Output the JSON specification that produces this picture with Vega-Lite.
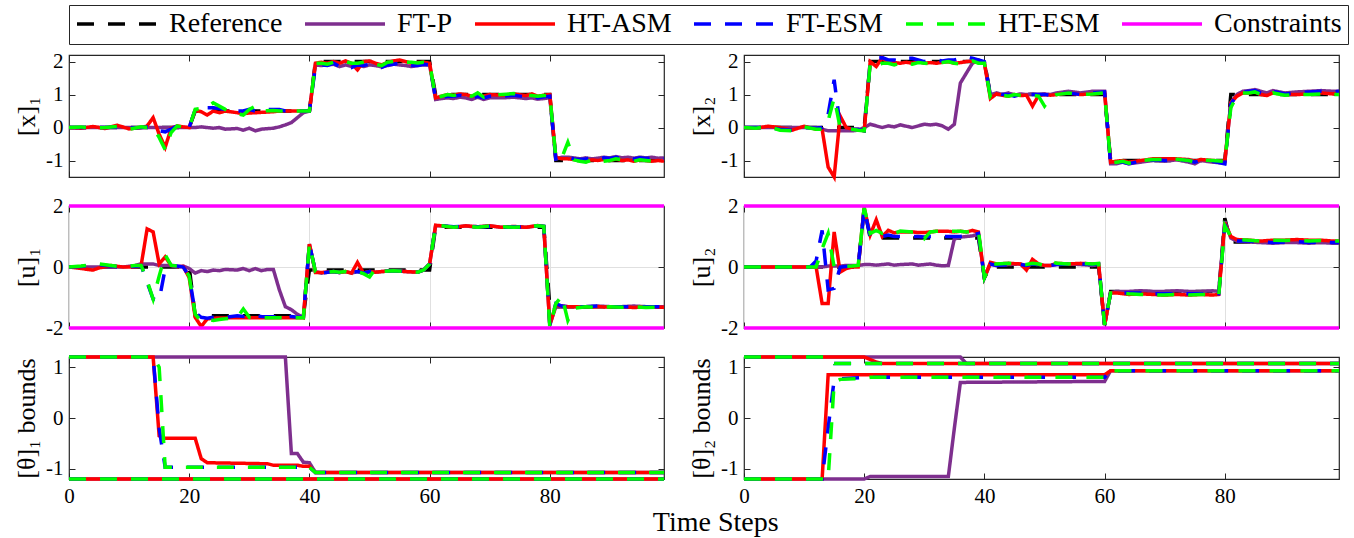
{
"$schema":"https://vega.github.io/schema/vega-lite/v6.json",
"padding":{"left":12,"top":4,"right":5,"bottom":0},
"background":"white",
"bounds":"flush",
"columns":2,
"spacing":{"row":29,"column":80},
"title":{"text":"Time Steps","orient":"bottom","anchor":"middle","font":"Liberation Serif","fontSize":28,"fontWeight":"normal","color":"#000000","offset":2,"dx":35},
"resolve":{"scale":{"color":"shared","strokeDash":"shared"}},
"datasets":{
"x1":[
{"t":0,"a":0,"b":0,"c":0,"d":0,"e":0},
{"t":2,"a":0,"b":0,"c":-0.02,"d":0,"e":0.02},
{"t":4,"a":0,"b":0,"c":0.03,"d":0,"e":-0.02},
{"t":6,"a":0,"b":0,"c":-0.03,"d":0,"e":0},
{"t":8,"a":0,"b":0,"c":0.07,"d":0.02,"e":0.03},
{"t":10,"a":0,"b":0,"c":-0.04,"d":-0.02,"e":-0.05},
{"t":12,"a":0,"b":0,"c":0,"d":0,"e":0.02},
{"t":13,"a":0,"b":0,"c":0.05,"d":0.02,"e":0},
{"t":14,"a":0,"b":0,"c":0.3,"d":0.02,"e":0},
{"t":15,"a":0,"b":0,"c":-0.2,"d":-0.1,"e":-0.3},
{"t":16,"a":0,"b":0,"c":-0.6,"d":-0.13,"e":-0.67},
{"t":17,"a":0,"b":0,"c":-0.02,"d":-0.05,"e":-0.15},
{"t":18,"a":0,"b":0,"c":0.05,"d":0.05,"e":0.05},
{"t":19,"a":0,"b":0,"c":0.02,"d":0,"e":0},
{"t":20,"a":0,"b":0,"c":0,"d":0,"e":0},
{"t":21,"a":0.5,"b":0,"c":0.52,"d":0.55,"e":0.55},
{"t":22,"a":0.5,"b":0.02,"c":0.48,"d":0.6,"e":0.58},
{"t":23,"a":0.5,"b":0,"c":0.38,"d":0.6,"e":0.62},
{"t":24,"a":0.5,"b":-0.02,"c":0.5,"d":0.6,"e":0.75},
{"t":25,"a":0.5,"b":0,"c":0.45,"d":0.58,"e":0.65},
{"t":26,"a":0.5,"b":-0.05,"c":0.5,"d":0.55,"e":0.55},
{"t":28,"a":0.5,"b":-0.03,"c":0.45,"d":0.5,"e":0.42},
{"t":29,"a":0.5,"b":-0.08,"c":0.42,"d":0.5,"e":0.38},
{"t":30,"a":0.5,"b":-0.02,"c":0.44,"d":0.55,"e":0.55},
{"t":31,"a":0.5,"b":-0.1,"c":0.45,"d":0.5,"e":0.65},
{"t":32,"a":0.5,"b":-0.05,"c":0.46,"d":0.55,"e":0.5},
{"t":34,"a":0.5,"b":-0.02,"c":0.48,"d":0.55,"e":0.52},
{"t":35,"a":0.5,"b":0.02,"c":0.5,"d":0.55,"e":0.5},
{"t":36,"a":0.5,"b":0.08,"c":0.5,"d":0.5,"e":0.5},
{"t":37,"a":0.5,"b":0.15,"c":0.5,"d":0.5,"e":0.5},
{"t":38,"a":0.5,"b":0.3,"c":0.5,"d":0.5,"e":0.5},
{"t":39,"a":0.5,"b":0.45,"c":0.5,"d":0.5,"e":0.5},
{"t":40,"a":0.5,"b":0.5,"c":0.5,"d":0.5,"e":0.5},
{"t":41,"a":2,"b":1.9,"c":1.95,"d":1.85,"e":1.95},
{"t":42,"a":2,"b":1.88,"c":1.98,"d":1.9,"e":1.95},
{"t":43,"a":2,"b":1.9,"c":1.95,"d":1.88,"e":1.92},
{"t":44,"a":2,"b":1.92,"c":2,"d":1.95,"e":1.98},
{"t":45,"a":2,"b":1.85,"c":1.95,"d":1.85,"e":2},
{"t":46,"a":2,"b":1.9,"c":2.02,"d":1.9,"e":2},
{"t":47,"a":2,"b":1.85,"c":1.95,"d":1.82,"e":1.95},
{"t":48,"a":2,"b":1.9,"c":1.75,"d":1.9,"e":1.95},
{"t":49,"a":2,"b":1.85,"c":2,"d":1.88,"e":1.98},
{"t":50,"a":2,"b":1.9,"c":2.02,"d":1.92,"e":2},
{"t":51,"a":2,"b":1.88,"c":1.95,"d":1.85,"e":1.92},
{"t":52,"a":2,"b":1.84,"c":1.9,"d":1.82,"e":1.88},
{"t":53,"a":2,"b":1.88,"c":1.97,"d":1.9,"e":1.98},
{"t":54,"a":2,"b":1.92,"c":2.02,"d":1.92,"e":2},
{"t":55,"a":2,"b":1.9,"c":2.05,"d":1.95,"e":2.02},
{"t":56,"a":2,"b":1.88,"c":2,"d":1.9,"e":1.98},
{"t":57,"a":2,"b":1.85,"c":1.95,"d":1.88,"e":1.98},
{"t":58,"a":2,"b":1.88,"c":1.97,"d":1.88,"e":1.96},
{"t":59,"a":2,"b":1.9,"c":1.98,"d":1.92,"e":1.98},
{"t":60,"a":2,"b":1.9,"c":1.95,"d":1.9,"e":1.95},
{"t":61,"a":1,"b":0.85,"c":0.9,"d":0.88,"e":0.9},
{"t":62,"a":1,"b":0.88,"c":0.95,"d":0.92,"e":0.95},
{"t":63,"a":1,"b":0.9,"c":1,"d":0.95,"e":1},
{"t":64,"a":1,"b":0.88,"c":0.98,"d":0.95,"e":0.97},
{"t":65,"a":1,"b":0.92,"c":1.02,"d":0.98,"e":1.02},
{"t":66,"a":1,"b":0.9,"c":1,"d":0.95,"e":0.98},
{"t":67,"a":1,"b":0.85,"c":0.95,"d":0.88,"e":0.95},
{"t":68,"a":1,"b":0.92,"c":1,"d":0.95,"e":1.05},
{"t":69,"a":1,"b":0.85,"c":0.95,"d":0.9,"e":0.92},
{"t":70,"a":1,"b":0.9,"c":1,"d":0.95,"e":0.97},
{"t":72,"a":1,"b":0.9,"c":0.98,"d":0.95,"e":1},
{"t":74,"a":1,"b":0.92,"c":1.02,"d":0.98,"e":1.03},
{"t":76,"a":1,"b":0.88,"c":0.97,"d":0.93,"e":0.98},
{"t":77,"a":1,"b":0.9,"c":1.02,"d":0.95,"e":0.97},
{"t":78,"a":1,"b":0.86,"c":0.95,"d":0.9,"e":0.95},
{"t":79,"a":1,"b":0.88,"c":0.98,"d":0.93,"e":0.97},
{"t":80,"a":1,"b":0.9,"c":1,"d":0.95,"e":0.98},
{"t":81,"a":-1,"b":-0.95,"c":-0.9,"d":-0.95,"e":-0.9},
{"t":82,"a":-1,"b":-0.9,"c":-0.95,"d":-0.92,"e":-0.92},
{"t":83,"a":-1,"b":-0.9,"c":-0.95,"d":-0.9,"e":-0.45},
{"t":84,"a":-1,"b":-0.92,"c":-0.97,"d":-0.95,"e":-0.98},
{"t":85,"a":-1,"b":-0.95,"c":-1,"d":-0.97,"e":-1.02},
{"t":86,"a":-1,"b":-0.92,"c":-1.02,"d":-0.95,"e":-1.05},
{"t":87,"a":-1,"b":-0.95,"c":-0.98,"d":-0.93,"e":-0.98},
{"t":88,"a":-1,"b":-0.93,"c":-1,"d":-0.95,"e":-1.05},
{"t":89,"a":-1,"b":-0.9,"c":-0.97,"d":-0.92,"e":-1.02},
{"t":90,"a":-1,"b":-0.92,"c":-1,"d":-0.94,"e":-1},
{"t":91,"a":-1,"b":-0.88,"c":-0.95,"d":-0.9,"e":-0.95},
{"t":92,"a":-1,"b":-0.92,"c":-1,"d":-0.93,"e":-0.98},
{"t":93,"a":-1,"b":-0.9,"c":-0.98,"d":-0.92,"e":-1},
{"t":94,"a":-1,"b":-0.93,"c":-1.02,"d":-0.95,"e":-1.02},
{"t":95,"a":-1,"b":-0.9,"c":-0.98,"d":-0.92,"e":-0.98},
{"t":96,"a":-1,"b":-0.92,"c":-1,"d":-0.94,"e":-1},
{"t":97,"a":-1,"b":-0.9,"c":-1.02,"d":-0.92,"e":-1.02},
{"t":98,"a":-1,"b":-0.93,"c":-1,"d":-0.95,"e":-1},
{"t":99,"a":-1,"b":-0.92,"c":-1.02,"d":-0.94,"e":-1}
],
"x2":[
{"t":0,"a":0,"b":0,"c":0,"d":0,"e":0},
{"t":2,"a":0,"b":0,"c":-0.02,"d":0,"e":-0.02},
{"t":4,"a":0,"b":0,"c":0.04,"d":0,"e":0.03},
{"t":6,"a":0,"b":0,"c":0,"d":-0.05,"e":-0.08},
{"t":8,"a":0,"b":0,"c":-0.08,"d":-0.08,"e":-0.1},
{"t":10,"a":0,"b":0,"c":0.04,"d":0,"e":0.02},
{"t":12,"a":0,"b":0,"c":-0.05,"d":-0.02,"e":-0.05},
{"t":13,"a":0,"b":-0.05,"c":-0.05,"d":0,"e":-0.05},
{"t":14,"a":0,"b":-0.1,"c":-1.2,"d":0.4,"e":0.2},
{"t":15,"a":0,"b":-0.1,"c":-1.5,"d":1.45,"e":0.9},
{"t":16,"a":0,"b":-0.1,"c":0.35,"d":0.05,"e":0},
{"t":17,"a":0,"b":-0.1,"c":0,"d":-0.02,"e":-0.02},
{"t":18,"a":0,"b":-0.1,"c":-0.05,"d":-0.05,"e":-0.05},
{"t":19,"a":0,"b":-0.08,"c":-0.05,"d":-0.05,"e":-0.08},
{"t":20,"a":0,"b":0,"c":-0.1,"d":-0.1,"e":-0.1},
{"t":21,"a":2,"b":0.1,"c":2,"d":2,"e":1.95},
{"t":22,"a":2,"b":0.05,"c":1.85,"d":2.1,"e":1.85},
{"t":23,"a":2,"b":0,"c":2.12,"d":2.12,"e":1.95},
{"t":24,"a":2,"b":0.05,"c":1.95,"d":2.05,"e":1.95},
{"t":25,"a":2,"b":0.02,"c":1.97,"d":2.05,"e":1.9},
{"t":26,"a":2,"b":0.08,"c":1.95,"d":2.02,"e":1.95},
{"t":27,"a":2,"b":0.04,"c":1.98,"d":2.1,"e":1.95},
{"t":28,"a":2,"b":0,"c":1.95,"d":2.1,"e":1.92},
{"t":29,"a":2,"b":0.05,"c":2,"d":2.05,"e":1.97},
{"t":30,"a":2,"b":0.1,"c":1.95,"d":2,"e":1.95},
{"t":31,"a":2,"b":0.08,"c":1.97,"d":2.05,"e":1.93},
{"t":32,"a":2,"b":0.1,"c":1.95,"d":2.05,"e":1.95},
{"t":33,"a":2,"b":0.05,"c":1.98,"d":2.02,"e":1.97},
{"t":34,"a":2,"b":-0.05,"c":2,"d":2.05,"e":2},
{"t":35,"a":2,"b":0.1,"c":1.95,"d":2.05,"e":1.95},
{"t":36,"a":2,"b":1.35,"c":1.97,"d":2.1,"e":1.92},
{"t":37,"a":2,"b":1.65,"c":2,"d":2.15,"e":1.97},
{"t":38,"a":2,"b":1.95,"c":2.02,"d":2.1,"e":2.02},
{"t":39,"a":2,"b":2.05,"c":1.97,"d":2.05,"e":1.95},
{"t":40,"a":2,"b":1.95,"c":1.95,"d":2,"e":1.95},
{"t":41,"a":1,"b":1,"c":0.88,"d":0.95,"e":0.92},
{"t":42,"a":1,"b":1.05,"c":1.02,"d":1.05,"e":1},
{"t":43,"a":1,"b":1,"c":0.98,"d":1,"e":0.98},
{"t":44,"a":1,"b":1.05,"c":0.95,"d":1,"e":0.95},
{"t":45,"a":1,"b":0.98,"c":1,"d":0.95,"e":1},
{"t":46,"a":1,"b":1.02,"c":0.97,"d":1,"e":0.98},
{"t":47,"a":1,"b":1,"c":0.98,"d":0.98,"e":0.97},
{"t":48,"a":1,"b":1.02,"c":0.65,"d":1,"e":0.98},
{"t":49,"a":1,"b":1,"c":0.97,"d":1,"e":0.95},
{"t":50,"a":1,"b":1.02,"c":1,"d":1,"e":0.65},
{"t":51,"a":1,"b":1,"c":0.98,"d":0.98,"e":0.9},
{"t":52,"a":1,"b":1.05,"c":1,"d":1.02,"e":1},
{"t":54,"a":1,"b":1.1,"c":1.05,"d":1.05,"e":1.05},
{"t":56,"a":1,"b":1.05,"c":1,"d":1,"e":1},
{"t":58,"a":1,"b":1.1,"c":1.02,"d":1.05,"e":1.02},
{"t":60,"a":1,"b":1.1,"c":1.05,"d":1.08,"e":1.05},
{"t":61,"a":-1,"b":-1.1,"c":-1.05,"d":-1.1,"e":-1.08},
{"t":62,"a":-1,"b":-1.1,"c":-1.02,"d":-1.05,"e":-1.05},
{"t":63,"a":-1,"b":-1.05,"c":-1,"d":-1.05,"e":-1.02},
{"t":64,"a":-1,"b":-1.1,"c":-1.05,"d":-1.1,"e":-1.08},
{"t":66,"a":-1,"b":-1.05,"c":-1,"d":-1.02,"e":-1},
{"t":68,"a":-1,"b":-1,"c":-0.95,"d":-0.98,"e":-0.97},
{"t":70,"a":-1,"b":-1.02,"c":-0.95,"d":-1,"e":-0.97},
{"t":72,"a":-1,"b":-0.98,"c":-0.95,"d":-0.98,"e":-0.96},
{"t":74,"a":-1,"b":-1.05,"c":-0.97,"d":-1,"e":-1},
{"t":75,"a":-1,"b":-1.1,"c":-1.02,"d":-1.05,"e":-1.05},
{"t":76,"a":-1,"b":-1,"c":-0.97,"d":-1,"e":-0.98},
{"t":78,"a":-1,"b":-1.05,"c":-1,"d":-1.02,"e":-1},
{"t":80,"a":-1,"b":-1.08,"c":-1.02,"d":-1.1,"e":-1.03},
{"t":81,"a":1,"b":0.75,"c":0.75,"d":0.7,"e":0.6},
{"t":82,"a":1,"b":1,"c":0.95,"d":1,"e":0.95},
{"t":83,"a":1,"b":1.1,"c":1.05,"d":1.08,"e":1.05},
{"t":84,"a":1,"b":1.12,"c":1.05,"d":1.1,"e":1.05},
{"t":85,"a":1,"b":1.15,"c":1.08,"d":1.12,"e":1.08},
{"t":86,"a":1,"b":1.1,"c":1,"d":1.05,"e":1},
{"t":87,"a":1,"b":1.05,"c":0.97,"d":1,"e":0.97},
{"t":88,"a":1,"b":1.12,"c":1.05,"d":1.1,"e":1.05},
{"t":90,"a":1,"b":1.05,"c":1,"d":1.02,"e":0.98},
{"t":92,"a":1,"b":1.08,"c":1,"d":1.05,"e":1},
{"t":94,"a":1,"b":1.1,"c":1.02,"d":1.08,"e":1},
{"t":96,"a":1,"b":1.12,"c":1.05,"d":1.1,"e":1.02},
{"t":98,"a":1,"b":1.1,"c":1.02,"d":1.08,"e":1},
{"t":99,"a":1,"b":1.1,"c":1.05,"d":1.1,"e":1}
],
"u1":[
{"t":0,"a":0,"b":0,"c":0,"d":0,"e":0},
{"t":2,"a":0,"b":0,"c":-0.05,"d":0.02,"e":0.03},
{"t":4,"a":0,"b":0,"c":-0.1,"d":0.05,"e":0.08},
{"t":5,"a":0,"b":0,"c":-0.03,"d":0.08,"e":0.1},
{"t":7,"a":0,"b":0,"c":0.05,"d":0.03,"e":0.05},
{"t":9,"a":0,"b":0,"c":0,"d":0,"e":0},
{"t":11,"a":0,"b":0.05,"c":0,"d":0.02,"e":0.05},
{"t":12,"a":0,"b":0.1,"c":0.05,"d":0.05,"e":0.05},
{"t":13,"a":0,"b":0.1,"c":1.25,"d":-0.5,"e":-0.45},
{"t":14,"a":0,"b":0.1,"c":1.15,"d":-1.05,"e":-1.05},
{"t":15,"a":0,"b":0.05,"c":0.1,"d":-1.1,"e":-0.3},
{"t":16,"a":0,"b":0.05,"c":0.33,"d":-0.05,"e":0.4},
{"t":17,"a":0,"b":0.05,"c":0.05,"d":0.05,"e":0.05},
{"t":18,"a":0,"b":0,"c":0.02,"d":0.03,"e":0.03},
{"t":19,"a":0,"b":0.03,"c":0.02,"d":0,"e":0.02},
{"t":20,"a":0,"b":-0.05,"c":-0.35,"d":-0.3,"e":-0.3},
{"t":21,"a":-1.6,"b":-0.2,"c":-1.65,"d":-1.5,"e":-1.55},
{"t":22,"a":-1.6,"b":-0.12,"c":-1.95,"d":-1.65,"e":-1.78},
{"t":23,"a":-1.6,"b":-0.15,"c":-1.7,"d":-1.68,"e":-1.72},
{"t":24,"a":-1.6,"b":-0.1,"c":-1.68,"d":-1.65,"e":-1.75},
{"t":25,"a":-1.6,"b":-0.12,"c":-1.67,"d":-1.63,"e":-1.72},
{"t":26,"a":-1.6,"b":-0.08,"c":-1.67,"d":-1.65,"e":-1.7},
{"t":28,"a":-1.6,"b":-0.1,"c":-1.66,"d":-1.6,"e":-1.65},
{"t":29,"a":-1.6,"b":-0.05,"c":-1.66,"d":-1.62,"e":-1.38},
{"t":30,"a":-1.6,"b":-0.12,"c":-1.66,"d":-1.62,"e":-1.65},
{"t":31,"a":-1.6,"b":-0.05,"c":-1.66,"d":-1.6,"e":-1.66},
{"t":32,"a":-1.6,"b":-0.12,"c":-1.66,"d":-1.62,"e":-1.66},
{"t":33,"a":-1.6,"b":-0.08,"c":-1.66,"d":-1.63,"e":-1.66},
{"t":34,"a":-1.6,"b":-0.08,"c":-1.66,"d":-1.63,"e":-1.66},
{"t":35,"a":-1.6,"b":-0.75,"c":-1.66,"d":-1.63,"e":-1.66},
{"t":36,"a":-1.6,"b":-1.3,"c":-1.66,"d":-1.63,"e":-1.66},
{"t":37,"a":-1.6,"b":-1.4,"c":-1.66,"d":-1.62,"e":-1.66},
{"t":38,"a":-1.6,"b":-1.55,"c":-1.66,"d":-1.65,"e":-1.66},
{"t":39,"a":-1.6,"b":-1.65,"c":-1.66,"d":-1.64,"e":-1.66},
{"t":40,"a":-0.1,"b":0.75,"c":0.75,"d":0.75,"e":0.75},
{"t":41,"a":-0.1,"b":-0.15,"c":-0.18,"d":-0.15,"e":-0.15},
{"t":42,"a":-0.1,"b":-0.2,"c":-0.18,"d":-0.2,"e":-0.2},
{"t":44,"a":-0.1,"b":-0.15,"c":-0.15,"d":-0.15,"e":-0.15},
{"t":45,"a":-0.1,"b":-0.18,"c":-0.18,"d":-0.18,"e":-0.17},
{"t":46,"a":-0.1,"b":-0.15,"c":-0.15,"d":-0.15,"e":-0.15},
{"t":47,"a":-0.1,"b":-0.2,"c":-0.2,"d":-0.18,"e":-0.2},
{"t":48,"a":-0.1,"b":-0.15,"c":0.15,"d":-0.15,"e":-0.15},
{"t":49,"a":-0.1,"b":-0.2,"c":-0.2,"d":-0.2,"e":-0.22},
{"t":50,"a":-0.1,"b":-0.15,"c":-0.15,"d":-0.15,"e":-0.33},
{"t":51,"a":-0.1,"b":-0.17,"c":-0.17,"d":-0.15,"e":-0.05},
{"t":52,"a":-0.1,"b":-0.15,"c":-0.15,"d":-0.15,"e":-0.15},
{"t":54,"a":-0.1,"b":-0.12,"c":-0.12,"d":-0.12,"e":-0.12},
{"t":56,"a":-0.1,"b":-0.15,"c":-0.15,"d":-0.15,"e":-0.15},
{"t":58,"a":-0.1,"b":-0.17,"c":-0.17,"d":-0.17,"e":-0.17},
{"t":59,"a":-0.1,"b":-0.1,"c":-0.1,"d":-0.1,"e":-0.1},
{"t":60,"a":-0.1,"b":0.1,"c":0.1,"d":0.1,"e":0.1},
{"t":61,"a":1.3,"b":1.35,"c":1.37,"d":1.37,"e":1.37},
{"t":62,"a":1.3,"b":1.35,"c":1.35,"d":1.35,"e":1.35},
{"t":64,"a":1.3,"b":1.3,"c":1.3,"d":1.32,"e":1.3},
{"t":66,"a":1.3,"b":1.35,"c":1.35,"d":1.33,"e":1.35},
{"t":68,"a":1.3,"b":1.3,"c":1.32,"d":1.32,"e":1.3},
{"t":70,"a":1.3,"b":1.35,"c":1.35,"d":1.33,"e":1.35},
{"t":72,"a":1.3,"b":1.3,"c":1.3,"d":1.3,"e":1.32},
{"t":74,"a":1.3,"b":1.32,"c":1.33,"d":1.32,"e":1.3},
{"t":76,"a":1.3,"b":1.3,"c":1.3,"d":1.3,"e":1.32},
{"t":78,"a":1.3,"b":1.35,"c":1.36,"d":1.35,"e":1.35},
{"t":79,"a":1.3,"b":1.33,"c":1.32,"d":1.33,"e":1.33},
{"t":80,"a":-1.3,"b":-1.9,"c":-1.9,"d":-1.9,"e":-1.98},
{"t":81,"a":-1.3,"b":-1.3,"c":-1.25,"d":-1.2,"e":-1.2},
{"t":82,"a":-1.3,"b":-1.3,"c":-1.28,"d":-1.28,"e":-0.95},
{"t":83,"a":-1.3,"b":-1.3,"c":-1.3,"d":-1.3,"e":-1.75},
{"t":84,"a":-1.3,"b":-1.3,"c":-1.3,"d":-1.3,"e":-1.35},
{"t":86,"a":-1.3,"b":-1.3,"c":-1.32,"d":-1.3,"e":-1.3},
{"t":88,"a":-1.3,"b":-1.28,"c":-1.3,"d":-1.28,"e":-1.33},
{"t":90,"a":-1.3,"b":-1.3,"c":-1.32,"d":-1.3,"e":-1.3},
{"t":92,"a":-1.3,"b":-1.3,"c":-1.3,"d":-1.3,"e":-1.32},
{"t":94,"a":-1.3,"b":-1.28,"c":-1.33,"d":-1.3,"e":-1.3},
{"t":96,"a":-1.3,"b":-1.3,"c":-1.3,"d":-1.3,"e":-1.33},
{"t":98,"a":-1.3,"b":-1.3,"c":-1.32,"d":-1.3,"e":-1.32},
{"t":99,"a":-1.3,"b":-1.3,"c":-1.32,"d":-1.3,"e":-1.33}
],
"u2":[
{"t":0,"a":0,"b":0,"c":0,"d":0,"e":0},
{"t":11,"a":0,"b":0,"c":0,"d":0,"e":0},
{"t":12,"a":0,"b":0,"c":0,"d":0.2,"e":0},
{"t":13,"a":0,"b":0,"c":-1.2,"d":1.2,"e":0.6},
{"t":14,"a":0,"b":0.03,"c":-1.2,"d":-0.75,"e":1.1},
{"t":15,"a":0,"b":0.03,"c":1.15,"d":-0.7,"e":0},
{"t":16,"a":0,"b":0.03,"c":-0.17,"d":0,"e":0},
{"t":17,"a":0,"b":0.05,"c":-0.05,"d":0.02,"e":0.02},
{"t":18,"a":0,"b":0.05,"c":0,"d":0.03,"e":0.03},
{"t":19,"a":0,"b":0.05,"c":0,"d":0.05,"e":0.05},
{"t":20,"a":1.95,"b":0.08,"c":1.95,"d":1.9,"e":1.95},
{"t":21,"a":0.95,"b":0.08,"c":1.05,"d":1,"e":1.1},
{"t":22,"a":0.95,"b":0.06,"c":1.55,"d":1,"e":1.2},
{"t":23,"a":0.95,"b":0.08,"c":1,"d":1,"e":1.1},
{"t":24,"a":0.95,"b":0.1,"c":1.2,"d":1.05,"e":1.15},
{"t":25,"a":0.95,"b":0.06,"c":1.12,"d":1,"e":1.1},
{"t":26,"a":0.95,"b":0.08,"c":1.15,"d":1,"e":1.18},
{"t":28,"a":0.95,"b":0.1,"c":1.15,"d":1,"e":1.15},
{"t":29,"a":0.95,"b":0.06,"c":1.13,"d":1,"e":1.15},
{"t":30,"a":0.95,"b":0.08,"c":1.13,"d":0.98,"e":0.93},
{"t":31,"a":0.95,"b":0.1,"c":1.15,"d":1,"e":1.15},
{"t":32,"a":0.95,"b":0.06,"c":1.17,"d":1,"e":1.17},
{"t":33,"a":0.95,"b":0.04,"c":1.17,"d":1,"e":1.17},
{"t":34,"a":0.95,"b":0.05,"c":1.17,"d":1,"e":1.17},
{"t":35,"a":0.95,"b":0.92,"c":1.15,"d":1,"e":1.17},
{"t":36,"a":0.95,"b":0.98,"c":1.17,"d":1,"e":1.17},
{"t":37,"a":0.95,"b":1,"c":1.15,"d":1.02,"e":1.15},
{"t":38,"a":0.95,"b":1.02,"c":1.2,"d":1.05,"e":1.17},
{"t":39,"a":0.95,"b":1.08,"c":1.15,"d":1.1,"e":1.2},
{"t":40,"a":-0.35,"b":-0.35,"c":-0.35,"d":-0.35,"e":-0.35},
{"t":41,"a":0,"b":0.1,"c":0.15,"d":0.1,"e":0.1},
{"t":42,"a":0,"b":0.05,"c":0.1,"d":0.05,"e":0.1},
{"t":44,"a":0,"b":0.08,"c":0.12,"d":0.08,"e":0.12},
{"t":46,"a":0,"b":0.1,"c":0.1,"d":0.08,"e":0.1},
{"t":47,"a":0,"b":0.05,"c":-0.1,"d":0.05,"e":0.08},
{"t":48,"a":0,"b":0.1,"c":0.25,"d":0.1,"e":0.12},
{"t":49,"a":0,"b":0.08,"c":0.1,"d":0.08,"e":0.1},
{"t":50,"a":0,"b":0.05,"c":0.05,"d":0.05,"e":0.05},
{"t":51,"a":0,"b":0.05,"c":0.05,"d":0.05,"e":0.2},
{"t":52,"a":0,"b":0.08,"c":0.12,"d":0.08,"e":0.12},
{"t":54,"a":0,"b":0.1,"c":0.1,"d":0.1,"e":0.1},
{"t":56,"a":0,"b":0.08,"c":0.12,"d":0.1,"e":0.12},
{"t":58,"a":0,"b":0.05,"c":0.1,"d":0.08,"e":0.1},
{"t":59,"a":0,"b":0.08,"c":0.1,"d":0.1,"e":0.12},
{"t":60,"a":-1.9,"b":-1.9,"c":-1.9,"d":-1.9,"e":-1.9},
{"t":61,"a":-0.8,"b":-0.85,"c":-0.85,"d":-0.85,"e":-0.85},
{"t":62,"a":-0.8,"b":-0.8,"c":-0.85,"d":-0.85,"e":-0.85},
{"t":64,"a":-0.8,"b":-0.8,"c":-0.9,"d":-0.85,"e":-0.88},
{"t":66,"a":-0.8,"b":-0.78,"c":-0.88,"d":-0.85,"e":-0.9},
{"t":68,"a":-0.8,"b":-0.8,"c":-0.9,"d":-0.88,"e":-0.92},
{"t":70,"a":-0.8,"b":-0.8,"c":-0.92,"d":-0.88,"e":-0.92},
{"t":72,"a":-0.8,"b":-0.78,"c":-0.9,"d":-0.87,"e":-0.9},
{"t":74,"a":-0.8,"b":-0.8,"c":-0.92,"d":-0.88,"e":-0.92},
{"t":76,"a":-0.8,"b":-0.8,"c":-0.9,"d":-0.88,"e":-0.9},
{"t":78,"a":-0.8,"b":-0.78,"c":-0.92,"d":-0.88,"e":-0.9},
{"t":79,"a":-0.8,"b":-0.8,"c":-0.9,"d":-0.88,"e":-0.9},
{"t":80,"a":1.6,"b":1.5,"c":1.45,"d":1.4,"e":1.35},
{"t":81,"a":0.82,"b":0.95,"c":1,"d":0.95,"e":1},
{"t":82,"a":0.82,"b":0.85,"c":0.9,"d":0.85,"e":0.9},
{"t":84,"a":0.82,"b":0.82,"c":0.88,"d":0.85,"e":0.88},
{"t":86,"a":0.82,"b":0.8,"c":0.85,"d":0.82,"e":0.85},
{"t":88,"a":0.82,"b":0.78,"c":0.88,"d":0.8,"e":0.88},
{"t":90,"a":0.82,"b":0.8,"c":0.88,"d":0.82,"e":0.87},
{"t":92,"a":0.82,"b":0.8,"c":0.9,"d":0.83,"e":0.88},
{"t":94,"a":0.82,"b":0.78,"c":0.88,"d":0.8,"e":0.85},
{"t":96,"a":0.82,"b":0.8,"c":0.88,"d":0.82,"e":0.87},
{"t":98,"a":0.82,"b":0.78,"c":0.85,"d":0.8,"e":0.85},
{"t":99,"a":0.82,"b":0.78,"c":0.85,"d":0.8,"e":0.85}
],
"th1":[
{"k":"u","t":0,"b":1.2,"c":1.2,"d":1.2,"e":1.2},
{"k":"u","t":14,"b":1.2,"c":1.2,"d":1.2,"e":1.2},
{"k":"u","t":15,"b":1.2,"c":-0.35,"d":-0.2,"e":1.0},
{"k":"u","t":16,"b":1.2,"c":-0.4,"d":-0.97,"e":-0.97},
{"k":"u","t":21,"b":1.2,"c":-0.4,"d":-0.97,"e":-0.97},
{"k":"u","t":22,"b":1.2,"c":-0.8,"d":-0.97,"e":-0.97},
{"k":"u","t":23,"b":1.2,"c":-0.88,"d":-0.97,"e":-0.97},
{"k":"u","t":33,"b":1.2,"c":-0.9,"d":-0.97,"e":-0.97},
{"k":"u","t":34,"b":1.2,"c":-0.93,"d":-0.97,"e":-0.97},
{"k":"u","t":36,"b":1.2,"c":-0.93,"d":-0.97,"e":-0.97},
{"k":"u","t":37,"b":-0.7,"c":-0.93,"d":-0.97,"e":-0.97},
{"k":"u","t":38,"b":-0.7,"c":-0.93,"d":-0.97,"e":-0.97},
{"k":"u","t":39,"b":-0.87,"c":-0.95,"d":-0.97,"e":-0.97},
{"k":"u","t":40,"b":-0.88,"c":-0.95,"d":-0.97,"e":-0.97},
{"k":"u","t":41,"b":-1.07,"c":-1.07,"d":-1.07,"e":-1.07},
{"k":"u","t":99,"b":-1.07,"c":-1.07,"d":-1.07,"e":-1.07},
{"k":"l","t":0,"b":-1.2,"c":-1.2,"d":-1.2,"e":-1.2},
{"k":"l","t":99,"b":-1.2,"c":-1.2,"d":-1.2,"e":-1.2}
],
"th2":[
{"k":"u","t":0,"b":1.2,"c":1.2,"d":1.2,"e":1.2},
{"k":"u","t":14,"b":1.2,"c":1.2,"d":1.2,"e":1.2},
{"k":"u","t":15,"b":1.2,"c":1.2,"d":1.07,"e":1.07},
{"k":"u","t":20,"b":1.2,"c":1.2,"d":1.07,"e":1.07},
{"k":"u","t":21,"b":1.2,"c":1.15,"d":1.07,"e":1.07},
{"k":"u","t":22,"b":1.2,"c":1.1,"d":1.07,"e":1.07},
{"k":"u","t":23,"b":1.2,"c":1.07,"d":1.07,"e":1.07},
{"k":"u","t":36,"b":1.2,"c":1.07,"d":1.07,"e":1.07},
{"k":"u","t":37,"b":1.07,"c":1.07,"d":1.07,"e":1.07},
{"k":"u","t":99,"b":1.07,"c":1.07,"d":1.07,"e":1.07},
{"k":"l","t":0,"b":-1.2,"c":-1.2,"d":-1.2,"e":-1.2},
{"k":"l","t":13,"b":-1.2,"c":-1.2,"d":-1.2,"e":-1.2},
{"k":"l","t":14,"b":-1.2,"c":0.85,"d":-0.2,"e":-1.2},
{"k":"l","t":15,"b":-1.2,"c":0.85,"d":0.75,"e":0.7},
{"k":"l","t":16,"b":-1.2,"c":0.85,"d":0.77,"e":0.76},
{"k":"l","t":20,"b":-1.2,"c":0.85,"d":0.8,"e":0.78},
{"k":"l","t":21,"b":-1.15,"c":0.85,"d":0.8,"e":0.8},
{"k":"l","t":34,"b":-1.15,"c":0.85,"d":0.8,"e":0.8},
{"k":"l","t":35,"b":-0.2,"c":0.85,"d":0.8,"e":0.8},
{"k":"l","t":36,"b":0.7,"c":0.85,"d":0.8,"e":0.8},
{"k":"l","t":60,"b":0.72,"c":0.85,"d":0.8,"e":0.8},
{"k":"l","t":61,"b":0.93,"c":0.93,"d":0.93,"e":0.93},
{"k":"l","t":99,"b":0.93,"c":0.93,"d":0.93,"e":0.93}
],
"cons":[
{"s":"f","g":"u","t":0,"v":2},
{"s":"f","g":"u","t":99,"v":2},
{"s":"f","g":"l","t":0,"v":-2},
{"s":"f","g":"l","t":99,"v":-2}
]
},
"concat":[
{"width":595,"height":122,"data":{"name":"x1"},"transform":[{"fold":["a","b","c","d","e"],"as":["s","v"]}],
 "resolve":{"axis":{"x":"independent","y":"independent"}},
 "layer":[
  {"transform":[{"filter":"datum.s == 'a'"}],
   "mark":{"type":"line","strokeWidth":3.5,"clip":false},
   "encoding":{
    "x":{"field":"t","type":"quantitative","axis":{"orient":"top","values":[0,20,40,60,80],"labels":false,"grid":false,"title":null}},
    "y":{"field":"v","type":"quantitative","axis":{"orient":"right","values":[-1,0,1,2],"labels":false,"grid":false,"title":null}},
    "color":{"field":"s","type":"nominal","scale":{"domain":["a","b","c","d","e","f"],"range":["#000000","#7E2F8E","#FF0000","#0000FF","#00FF00","#FF00FF"]},"legend":{"title":null,"labelExpr":"datum.label == 'a' ? 'Reference' : datum.label == 'b' ? 'FT-P' : datum.label == 'c' ? 'HT-ASM' : datum.label == 'd' ? 'FT-ESM' : datum.label == 'e' ? 'HT-ESM' : 'Constraints'"}},
    "strokeDash":{"field":"s","type":"nominal","scale":{"domain":["a","b","c","d","e","f"],"range":[[17,14],[1,0],[1,0],[17,14],[17,14],[1,0]]},"legend":{"title":null,"labelExpr":"datum.label == 'a' ? 'Reference' : datum.label == 'b' ? 'FT-P' : datum.label == 'c' ? 'HT-ASM' : datum.label == 'd' ? 'FT-ESM' : datum.label == 'e' ? 'HT-ESM' : 'Constraints'"}}
   }},
  {"transform":[{"filter":"datum.s != 'a'"}],
   "mark":{"type":"line","strokeWidth":3.5,"clip":false},
   "encoding":{
    "x":{"field":"t","type":"quantitative","scale":{"domain":[0,99],"nice":false},"axis":{"orient":"bottom","values":[0,20,40,60,80],"labels":false,"title":null}},
    "y":{"field":"v","type":"quantitative","scale":{"domain":[-1.5,2.2],"nice":false,"zero":false},"axis":{"orient":"left","values":[-1,0,1,2],"title":"[x]₁","labelExpr":"datum.value < 0 ? '-' + format(-datum.value, 'd') : format(datum.value, 'd')"}},
    "color":{"field":"s","type":"nominal","legend":{"title":null}},
    "strokeDash":{"field":"s","type":"nominal","legend":{"title":null}}
   }}
 ]},
{"width":595,"height":122,"data":{"name":"x2"},"transform":[{"fold":["a","b","c","d","e"],"as":["s","v"]}],
 "resolve":{"axis":{"x":"independent","y":"independent"}},
 "layer":[
  {"transform":[{"filter":"datum.s == 'a'"}],
   "mark":{"type":"line","strokeWidth":3.5,"clip":false},
   "encoding":{
    "x":{"field":"t","type":"quantitative","axis":{"orient":"top","values":[0,20,40,60,80],"labels":false,"grid":false,"title":null}},
    "y":{"field":"v","type":"quantitative","axis":{"orient":"right","values":[-1,0,1,2],"labels":false,"grid":false,"title":null}},
    "color":{"field":"s","type":"nominal","legend":{"title":null}},
    "strokeDash":{"field":"s","type":"nominal","legend":{"title":null}}
   }},
  {"transform":[{"filter":"datum.s != 'a'"}],
   "mark":{"type":"line","strokeWidth":3.5,"clip":false},
   "encoding":{
    "x":{"field":"t","type":"quantitative","scale":{"domain":[0,99],"nice":false},"axis":{"orient":"bottom","values":[0,20,40,60,80],"labels":false,"title":null}},
    "y":{"field":"v","type":"quantitative","scale":{"domain":[-1.5,2.2],"nice":false,"zero":false},"axis":{"orient":"left","values":[-1,0,1,2],"title":"[x]₂","labelExpr":"datum.value < 0 ? '-' + format(-datum.value, 'd') : format(datum.value, 'd')"}},
    "color":{"field":"s","type":"nominal","legend":{"title":null}},
    "strokeDash":{"field":"s","type":"nominal","legend":{"title":null}}
   }}
 ]},
{"width":595,"height":122,
 "resolve":{"axis":{"x":"independent","y":"independent"}},
 "layer":[
  {"data":{"name":"u1"},"transform":[{"fold":["a","b","c","d","e"],"as":["s","v"]}],
   "mark":{"type":"line","strokeWidth":3.5,"clip":false},
   "encoding":{
    "x":{"field":"t","type":"quantitative","scale":{"domain":[0,99],"nice":false},"axis":{"orient":"bottom","values":[0,20,40,60,80],"labels":false,"title":null}},
    "y":{"field":"v","type":"quantitative","scale":{"domain":[-2,2],"nice":false,"zero":false},"axis":{"orient":"left","values":[-2,0,2],"title":"[u]₁","labelExpr":"datum.value < 0 ? '-' + format(-datum.value, 'd') : format(datum.value, 'd')"}},
    "color":{"field":"s","type":"nominal","legend":{"title":null}},
    "strokeDash":{"field":"s","type":"nominal","legend":{"title":null}}
   }},
  {"data":{"name":"cons"},
   "mark":{"type":"line","strokeWidth":3.5,"clip":false},
   "encoding":{
    "x":{"field":"t","type":"quantitative","axis":{"orient":"top","values":[0,20,40,60,80],"labels":false,"grid":false,"title":null}},
    "y":{"field":"v","type":"quantitative","axis":{"orient":"right","values":[-2,0,2],"labels":false,"grid":false,"title":null}},
    "detail":{"field":"g"},
    "color":{"field":"s","type":"nominal","legend":{"title":null}},
    "strokeDash":{"field":"s","type":"nominal","legend":{"title":null}}
   }}
 ]},
{"width":595,"height":122,
 "resolve":{"axis":{"x":"independent","y":"independent"}},
 "layer":[
  {"data":{"name":"u2"},"transform":[{"fold":["a","b","c","d","e"],"as":["s","v"]}],
   "mark":{"type":"line","strokeWidth":3.5,"clip":false},
   "encoding":{
    "x":{"field":"t","type":"quantitative","scale":{"domain":[0,99],"nice":false},"axis":{"orient":"bottom","values":[0,20,40,60,80],"labels":false,"title":null}},
    "y":{"field":"v","type":"quantitative","scale":{"domain":[-2,2],"nice":false,"zero":false},"axis":{"orient":"left","values":[-2,0,2],"title":"[u]₂","labelExpr":"datum.value < 0 ? '-' + format(-datum.value, 'd') : format(datum.value, 'd')"}},
    "color":{"field":"s","type":"nominal","legend":{"title":null}},
    "strokeDash":{"field":"s","type":"nominal","legend":{"title":null}}
   }},
  {"data":{"name":"cons"},
   "mark":{"type":"line","strokeWidth":3.5,"clip":false},
   "encoding":{
    "x":{"field":"t","type":"quantitative","axis":{"orient":"top","values":[0,20,40,60,80],"labels":false,"grid":false,"title":null}},
    "y":{"field":"v","type":"quantitative","axis":{"orient":"right","values":[-2,0,2],"labels":false,"grid":false,"title":null}},
    "detail":{"field":"g"},
    "color":{"field":"s","type":"nominal","legend":{"title":null}},
    "strokeDash":{"field":"s","type":"nominal","legend":{"title":null}}
   }}
 ]},
{"width":595,"height":122,"data":{"name":"th1"},"transform":[{"fold":["b","c","d","e"],"as":["s","v"]}],
 "resolve":{"axis":{"x":"independent","y":"independent"}},
 "layer":[
  {"transform":[{"filter":"datum.s == 'b'"}],
   "mark":{"type":"line","strokeWidth":3.5,"clip":false},
   "encoding":{
    "x":{"field":"t","type":"quantitative","axis":{"orient":"top","values":[0,20,40,60,80],"labels":false,"grid":false,"title":null}},
    "y":{"field":"v","type":"quantitative","axis":{"orient":"right","values":[-1,0,1],"labels":false,"grid":false,"title":null}},
    "detail":{"field":"k"},
    "color":{"field":"s","type":"nominal","legend":{"title":null}},
    "strokeDash":{"field":"s","type":"nominal","legend":{"title":null}}
   }},
  {"transform":[{"filter":"datum.s != 'b'"}],
   "mark":{"type":"line","strokeWidth":3.5,"clip":false},
   "encoding":{
    "x":{"field":"t","type":"quantitative","scale":{"domain":[0,99],"nice":false},"axis":{"orient":"bottom","values":[0,20,40,60,80],"title":null}},
    "y":{"field":"v","type":"quantitative","scale":{"domain":[-1.2,1.2],"nice":false,"zero":false},"axis":{"orient":"left","values":[-1,0,1],"title":"[θ]₁ bounds","labelExpr":"datum.value < 0 ? '-' + format(-datum.value, 'd') : format(datum.value, 'd')"}},
    "detail":{"field":"k"},
    "color":{"field":"s","type":"nominal","legend":{"title":null}},
    "strokeDash":{"field":"s","type":"nominal","legend":{"title":null}}
   }}
 ]},
{"width":595,"height":122,"data":{"name":"th2"},"transform":[{"fold":["b","c","d","e"],"as":["s","v"]}],
 "resolve":{"axis":{"x":"independent","y":"independent"}},
 "layer":[
  {"transform":[{"filter":"datum.s == 'b'"}],
   "mark":{"type":"line","strokeWidth":3.5,"clip":false},
   "encoding":{
    "x":{"field":"t","type":"quantitative","axis":{"orient":"top","values":[0,20,40,60,80],"labels":false,"grid":false,"title":null}},
    "y":{"field":"v","type":"quantitative","axis":{"orient":"right","values":[-1,0,1],"labels":false,"grid":false,"title":null}},
    "detail":{"field":"k"},
    "color":{"field":"s","type":"nominal","legend":{"title":null}},
    "strokeDash":{"field":"s","type":"nominal","legend":{"title":null}}
   }},
  {"transform":[{"filter":"datum.s != 'b'"}],
   "mark":{"type":"line","strokeWidth":3.5,"clip":false},
   "encoding":{
    "x":{"field":"t","type":"quantitative","scale":{"domain":[0,99],"nice":false},"axis":{"orient":"bottom","values":[0,20,40,60,80],"title":null}},
    "y":{"field":"v","type":"quantitative","scale":{"domain":[-1.2,1.2],"nice":false,"zero":false},"axis":{"orient":"left","values":[-1,0,1],"title":"[θ]₂ bounds","labelExpr":"datum.value < 0 ? '-' + format(-datum.value, 'd') : format(datum.value, 'd')"}},
    "detail":{"field":"k"},
    "color":{"field":"s","type":"nominal","legend":{"title":null}},
    "strokeDash":{"field":"s","type":"nominal","legend":{"title":null}}
   }}
 ]}
],
"config":{
 "font":"Liberation Serif",
 "style":{"guide-label":{"font":"Liberation Serif"},"guide-title":{"font":"Liberation Serif"}},
 "view":{"stroke":"#262626","strokeWidth":1.2},
 "axis":{"domain":false,"grid":true,"gridColor":"#e0e0e0","gridWidth":1,"ticks":true,"tickColor":"#262626","tickSize":-6,"tickWidth":1,"labelFont":"Liberation Serif","labelFontSize":21,"labelColor":"#000000","titleFont":"Liberation Serif","titleFontSize":26,"titleFontWeight":"normal","titleColor":"#000000","labelFlush":false,"labelOverlap":false},
 "axisX":{"labelPadding":12},
 "axisY":{"labelPadding":12,"titlePadding":6},
 "legend":{"orient":"none","legendX":0,"legendY":-50,"direction":"horizontal","symbolType":"stroke","symbolSize":6400,"symbolStrokeWidth":4,"clipHeight":26,"labelFont":"Liberation Serif","labelFontSize":28,"labelColor":"#000000","labelOffset":10,"columnPadding":20,"padding":6,"strokeColor":"#262626","fillColor":"#ffffff","labelLimit":0},
 "line":{"strokeWidth":3.5}
}
}
